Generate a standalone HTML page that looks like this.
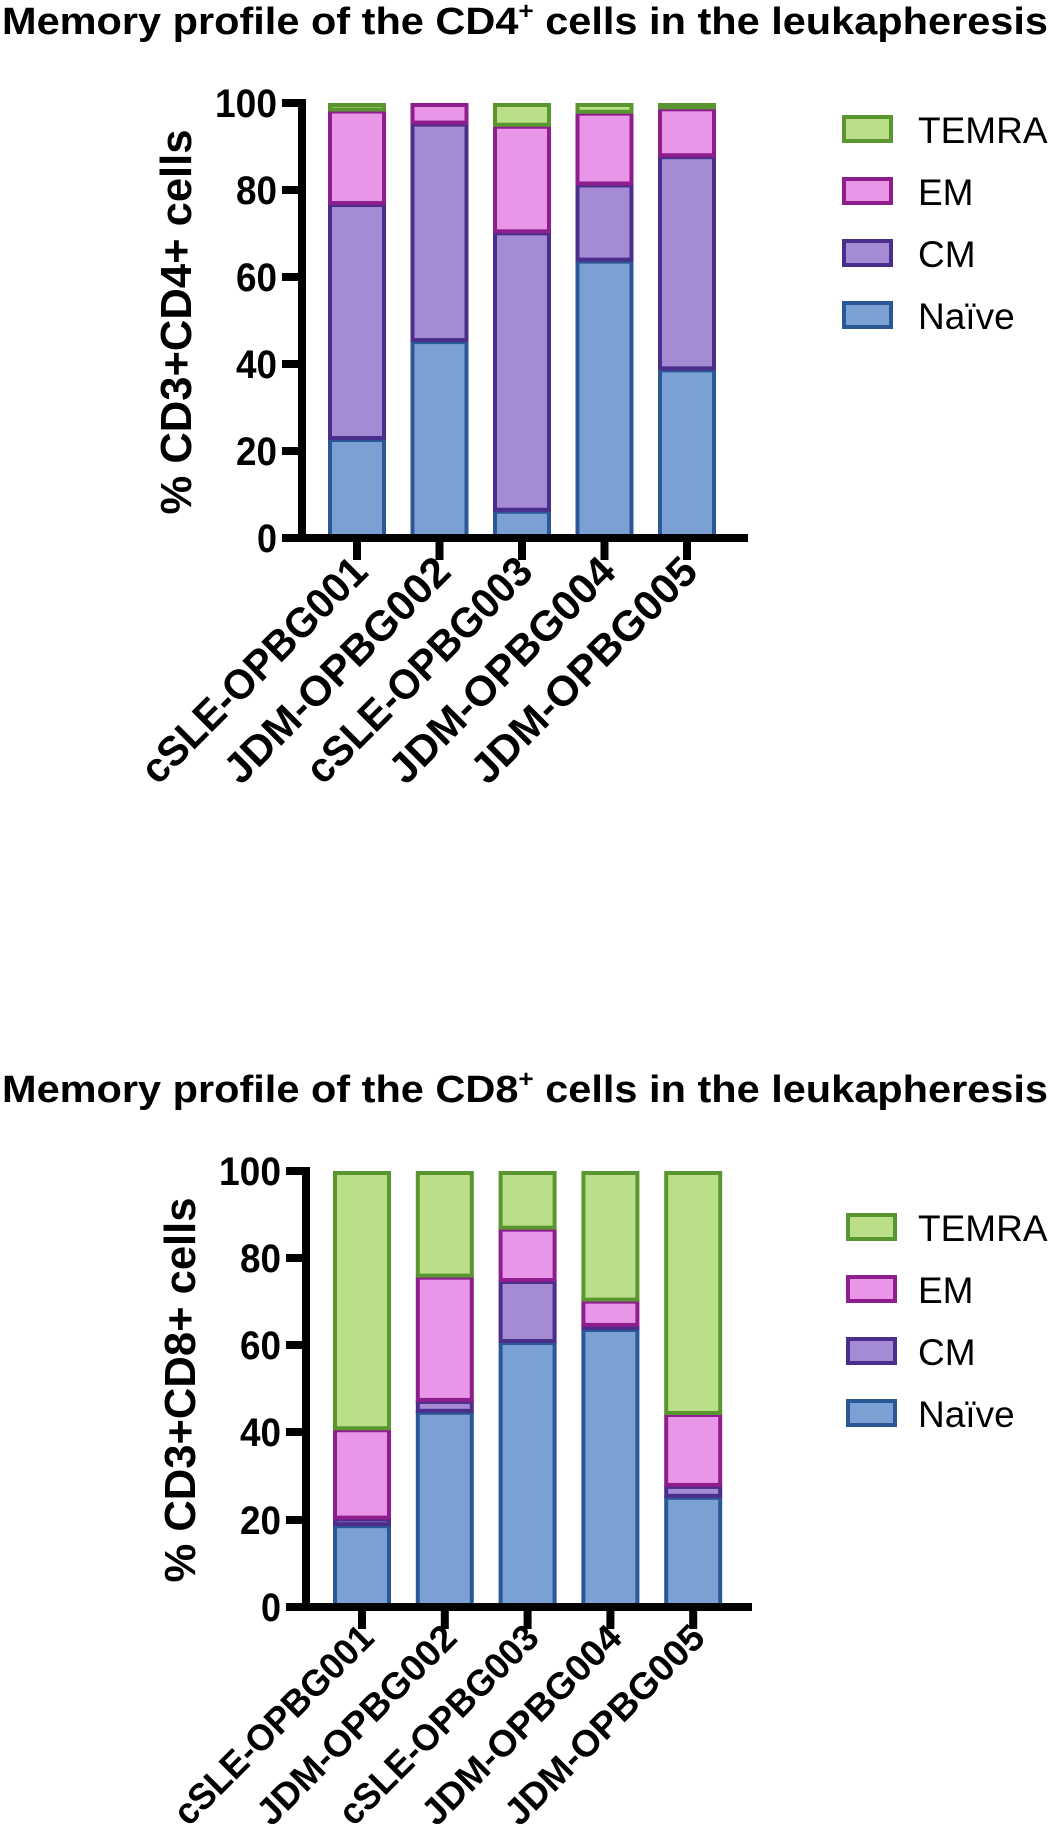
<!DOCTYPE html>
<html><head><meta charset="utf-8"><style>
html,body{margin:0;padding:0;background:#fff;}
svg{display:block;}
text{font-family:"Liberation Sans",Arial,sans-serif;fill:#000;}
.t{font-weight:bold;font-size:38px;}
.tk{font-weight:bold;font-size:40px;}
.yl{font-weight:bold;font-size:44px;}
.xl{font-weight:bold;font-size:42px;}
.xl2{font-weight:bold;font-size:37px;}
.lg{font-size:37px;}
</style></head><body>
<svg id="s" width="1052" height="1846" viewBox="0 0 1052 1846" xmlns="http://www.w3.org/2000/svg">
<!-- Chart 1 -->
<text class="t" x="2" y="34" textLength="1046" lengthAdjust="spacingAndGlyphs">Memory profile of the CD4<tspan dy="-15" font-size="24">+</tspan><tspan dy="15"> cells in the leukapheresis</tspan></text>
<g id="c1"></g>
<rect x="298" y="99" width="8" height="443" fill="#000"/>
<rect x="282" y="534" width="466" height="8" fill="#000"/>
<rect x="282" y="99" width="20" height="8" fill="#000"/>
<rect x="282" y="186" width="20" height="8" fill="#000"/>
<rect x="282" y="273" width="20" height="8" fill="#000"/>
<rect x="282" y="360" width="20" height="8" fill="#000"/>
<rect x="282" y="447" width="20" height="8" fill="#000"/>
<g text-anchor="end" class="tk">
<text x="277" y="117" textLength="62" lengthAdjust="spacingAndGlyphs">100</text><text x="277" y="204" textLength="41" lengthAdjust="spacingAndGlyphs">80</text><text x="277" y="291" textLength="41" lengthAdjust="spacingAndGlyphs">60</text><text x="277" y="378" textLength="41" lengthAdjust="spacingAndGlyphs">40</text><text x="277" y="465" textLength="41" lengthAdjust="spacingAndGlyphs">20</text><text x="277" y="552" textLength="20" lengthAdjust="spacingAndGlyphs">0</text>
</g>
<text class="yl" transform="translate(191,322) rotate(-90)" text-anchor="middle" textLength="385" lengthAdjust="spacingAndGlyphs">% CD3+CD4+ cells</text>
<g class="xl" text-anchor="end">
<text transform="translate(370,574) rotate(-45)" textLength="300" lengthAdjust="spacingAndGlyphs">cSLE-OPBG001</text>
<text transform="translate(453,574) rotate(-45)" textLength="300" lengthAdjust="spacingAndGlyphs">JDM-OPBG002</text>
<text transform="translate(535,574) rotate(-45)" textLength="300" lengthAdjust="spacingAndGlyphs">cSLE-OPBG003</text>
<text transform="translate(618,574) rotate(-45)" textLength="300" lengthAdjust="spacingAndGlyphs">JDM-OPBG004</text>
<text transform="translate(700,574) rotate(-45)" textLength="300" lengthAdjust="spacingAndGlyphs">JDM-OPBG005</text>
</g>
<g class="lg">
<rect x="844" y="117" width="47" height="24" fill="#bbdf88" stroke="#5a9630" stroke-width="4"/><text x="918" y="143">TEMRA</text>
<rect x="844" y="179" width="47" height="24" fill="#e996e9" stroke="#8e1d8e" stroke-width="4"/><text x="918" y="205">EM</text>
<rect x="844" y="241" width="47" height="24" fill="#a58ad4" stroke="#4b2d8c" stroke-width="4"/><text x="918" y="267">CM</text>
<rect x="844" y="303" width="47" height="24" fill="#7ba0d4" stroke="#2b5797" stroke-width="4"/><text x="918" y="329">Naïve</text>
</g>

<!-- Chart 2 -->
<text class="t" x="2" y="1102" textLength="1046" lengthAdjust="spacingAndGlyphs">Memory profile of the CD8<tspan dy="-15" font-size="24">+</tspan><tspan dy="15"> cells in the leukapheresis</tspan></text>
<g id="c2"></g>
<rect x="302" y="1167" width="8" height="444" fill="#000"/>
<rect x="286" y="1603" width="466" height="8" fill="#000"/>
<rect x="286" y="1167" width="20" height="8" fill="#000"/>
<rect x="286" y="1254" width="20" height="8" fill="#000"/>
<rect x="286" y="1341" width="20" height="8" fill="#000"/>
<rect x="286" y="1428" width="20" height="8" fill="#000"/>
<rect x="286" y="1516" width="20" height="8" fill="#000"/>
<g text-anchor="end" class="tk">
<text x="281" y="1185" textLength="62" lengthAdjust="spacingAndGlyphs">100</text><text x="281" y="1272" textLength="41" lengthAdjust="spacingAndGlyphs">80</text><text x="281" y="1359" textLength="41" lengthAdjust="spacingAndGlyphs">60</text><text x="281" y="1446" textLength="41" lengthAdjust="spacingAndGlyphs">40</text><text x="281" y="1534" textLength="41" lengthAdjust="spacingAndGlyphs">20</text><text x="281" y="1621" textLength="20" lengthAdjust="spacingAndGlyphs">0</text>
</g>
<text class="yl" transform="translate(195,1390) rotate(-90)" text-anchor="middle" textLength="385" lengthAdjust="spacingAndGlyphs">% CD3+CD8+ cells</text>
<g class="xl2" text-anchor="end">
<text transform="translate(376,1640) rotate(-45)" textLength="265" lengthAdjust="spacingAndGlyphs">cSLE-OPBG001</text>
<text transform="translate(459,1640) rotate(-45)" textLength="265" lengthAdjust="spacingAndGlyphs">JDM-OPBG002</text>
<text transform="translate(541,1640) rotate(-45)" textLength="265" lengthAdjust="spacingAndGlyphs">cSLE-OPBG003</text>
<text transform="translate(624,1640) rotate(-45)" textLength="265" lengthAdjust="spacingAndGlyphs">JDM-OPBG004</text>
<text transform="translate(707,1640) rotate(-45)" textLength="265" lengthAdjust="spacingAndGlyphs">JDM-OPBG005</text>
</g>
<g class="lg">
<rect x="848" y="1215" width="47" height="24" fill="#bbdf88" stroke="#5a9630" stroke-width="4"/><text x="918" y="1241">TEMRA</text>
<rect x="848" y="1277" width="47" height="24" fill="#e996e9" stroke="#8e1d8e" stroke-width="4"/><text x="918" y="1303">EM</text>
<rect x="848" y="1339" width="47" height="24" fill="#a58ad4" stroke="#4b2d8c" stroke-width="4"/><text x="918" y="1365">CM</text>
<rect x="848" y="1401" width="47" height="24" fill="#7ba0d4" stroke="#2b5797" stroke-width="4"/><text x="918" y="1427">Naïve</text>
</g>
</svg>
<script>
(function(){
var NS="http://www.w3.org/2000/svg";
var fills=["#7ba0d4","#a58ad4","#e996e9","#bbdf88"];
var strokes=["#2b5797","#4b2d8c","#8e1d8e","#5a9630"];
function draw(gid,x0,pitch,y0,unit,data,ticky){
  var g=document.getElementById(gid);
  data.forEach(function(cum,i){
    var left=x0+i*pitch, prev=0;
    for(var k=0;k<4;k++){
      var v=cum[k]; if(v-prev<0.05){prev=v;continue;}
      var yt=y0-unit*v, yb=y0-unit*prev;
      var r=document.createElementNS(NS,"rect");
      r.setAttribute("x",left+2);r.setAttribute("y",yt+2);
      r.setAttribute("width",54);r.setAttribute("height",Math.max(0.5,yb-yt-2));
      r.setAttribute("fill",fills[k]);r.setAttribute("stroke",strokes[k]);r.setAttribute("stroke-width",4);
      g.appendChild(r);prev=v;
    }
    var t=document.createElementNS(NS,"rect");
    t.setAttribute("x",left+25);t.setAttribute("y",ticky);t.setAttribute("width",8);t.setAttribute("height",22);t.setAttribute("fill","#000");
    g.appendChild(t);
  });
}
draw("c1",328,82.5,538,4.35,[[23,77,98.5,100],[45.5,95.5,100,100],[6.5,70.5,95,100],[64,81.5,98,100],[39,88,99,100]],538);
draw("c2",333,82.8,1607,4.36,[[19,20.5,41,100],[45,47.5,76,100],[61,75,87,100],[64,64.7,70.5,100],[25.5,28,44.5,100]],1607);
})();
</script>
</body></html>
